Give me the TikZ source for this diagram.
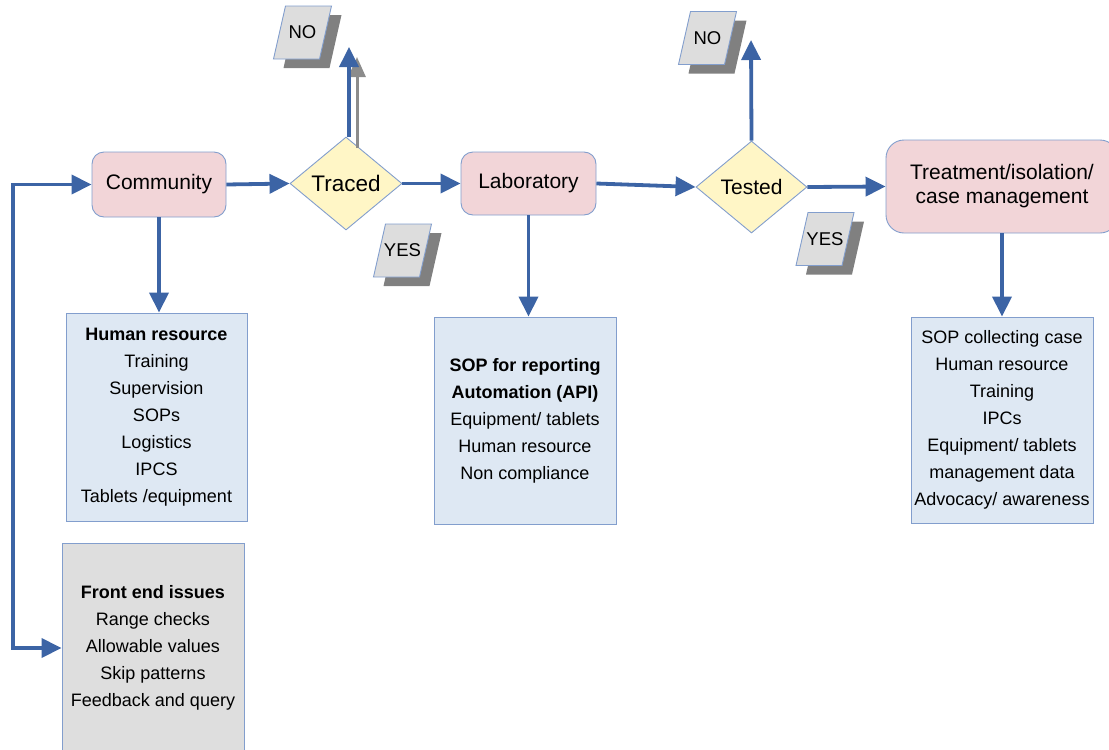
\documentclass[tikz,border=0pt]{standalone}
\usepackage{fontspec}
\setmainfont{Liberation Sans}
\usetikzlibrary{arrows.meta,shapes.geometric,calc}

\definecolor{flowblue}{RGB}{60,100,165}
\definecolor{edgeblue}{RGB}{130,158,205}
\definecolor{stagepink}{RGB}{242,213,216}
\definecolor{decyellow}{RGB}{255,246,198}
\definecolor{notefill}{RGB}{222,232,243}
\definecolor{frontgray}{RGB}{222,222,222}
\definecolor{tagfill}{RGB}{221,221,221}
\definecolor{tagshade}{RGB}{128,128,128}
\definecolor{ghostgray}{RGB}{140,140,140}

\tikzset{
  stage/.style={draw=edgeblue, line width=0.9pt, fill=stagepink, rounded corners=12pt,
    inner sep=0pt, align=center, font=\fontsize{21}{24}\selectfont},
  decision/.style={diamond, draw=edgeblue, line width=0.9pt, fill=decyellow, inner sep=0pt,
    font=\fontsize{21}{24}\selectfont},
  note/.style={draw=edgeblue, line width=0.9pt, fill=notefill, inner sep=0pt, align=center,
    font=\fontsize{18}{27}\selectfont},
  flow/.style={draw=flowblue, line width=3.8pt, -{Triangle[length=20pt,width=19pt]}},
  tagshadow/.style={fill=tagshade},
  tagface/.style={fill=tagfill, draw=edgeblue, line width=0.9pt},
  tagtext/.style={font=\fontsize{18.5}{20}\selectfont, inner sep=0pt},
}

% slanted answer tag with a drop shadow: #1 name, #2 centre, #3 text
\newcommand\answertag[3]{%
  \coordinate (#1) at (#2);
  \fill[tagshadow] ($(#1)+(-19,35.5)$) -- ($(#1)+(27,35.5)$) -- ($(#1)+(39,-17.5)$) -- ($(#1)+(-7,-17.5)$) -- cycle;
  \filldraw[tagface] ($(#1)+(-29,26.5)$) -- ($(#1)+(17,26.5)$) -- ($(#1)+(29,-26.5)$) -- ($(#1)+(-17,-26.5)$) -- cycle;
  \node[tagtext] (#1-label) at (#1) {#3};
}

\begin{document}
\begin{tikzpicture}[x=1pt,y=-1pt]
\useasboundingbox (0,0) rectangle (1109,750);

% main chain
\node[stage, minimum width=134pt, minimum height=65pt] (comm) at (159,184.5) {Community};
\node[decision, font=\fontsize{22.5}{24}\selectfont, minimum width=112pt, minimum height=93pt] (traced) at (346,183.5) {Traced};
\node[stage, minimum width=135pt, minimum height=63pt] (lab) at (528.5,183.5) {Laboratory};
\node[decision, minimum width=111pt, minimum height=92pt] (tested) at (751.5,187) {Tested};
\node[stage, rounded corners=18pt, minimum width=232pt, minimum height=93pt] (treat) at (1002,186.5)
  {Treatment/isolation/\\ case management};

% requirement boxes
\node[note, minimum width=181pt, minimum height=208pt] (hr) at (156.5,417)
  {{\bfseries Human resource}\\Training\\Supervision\\SOPs\\Logistics\\IPCS\\Tablets /equipment};
\node[note, minimum width=182pt, minimum height=207pt] (sop) at (525,420.5)
  {{\bfseries SOP for reporting}\\{\bfseries Automation (API)}\\Equipment/ tablets\\Human resource\\Non compliance};
\node[note, minimum width=182pt, minimum height=206pt] (cm) at (1002,420)
  {SOP collecting case\\Human resource\\Training\\IPCs\\Equipment/ tablets\\management data\\Advocacy/ awareness};
\node[note, fill=frontgray, minimum width=182pt, minimum height=210pt] (front) at (153,648)
  {{\bfseries Front end issues}\\Range checks\\Allowable values\\Skip patterns\\Feedback and query};

% answer tags
\answertag{tracedno}{302.5,32.5}{NO}
\answertag{tracedyes}{402.5,250.5}{YES}
\answertag{testedno}{707.5,38}{NO}
\answertag{testedyes}{825,239}{YES}

% free ends of the upward branches
\coordinate (tracedup) at (349,47);
\coordinate (tracedghost) at (357,57);
\coordinate (testedup) at (751,40);
\coordinate (loopx) at (13,184.5);

% flow connectors
\draw[flow] (comm.east) -- (traced.west);
\draw[flow] (traced.east) -- (lab.west);
\draw[flow] (lab.east) -- (tested.west);
\draw[flow] (tested.east) -- (treat.west);

\draw[flow] (comm.south) -- (comm.south |- hr.north);
\draw[flow] (lab.south) -- (lab.south |- sop.north);
\draw[flow] (treat.south) -- (treat.south |- cm.north);

\draw[draw=ghostgray, line width=3pt, -{Triangle[length=20pt,width=17pt]}]
  (tracedghost |- 0,148) -- (tracedghost);
\draw[flow] (tracedup |- traced.north) -- (tracedup);
\draw[flow] (tested.north) -- (testedup);

% feedback loop on the left
\draw[flow, {Triangle[length=20pt,width=19pt]}-{Triangle[length=20pt,width=19pt]}]
  (comm.west) -- (loopx) |- (front.west);
\end{tikzpicture}
\end{document}
